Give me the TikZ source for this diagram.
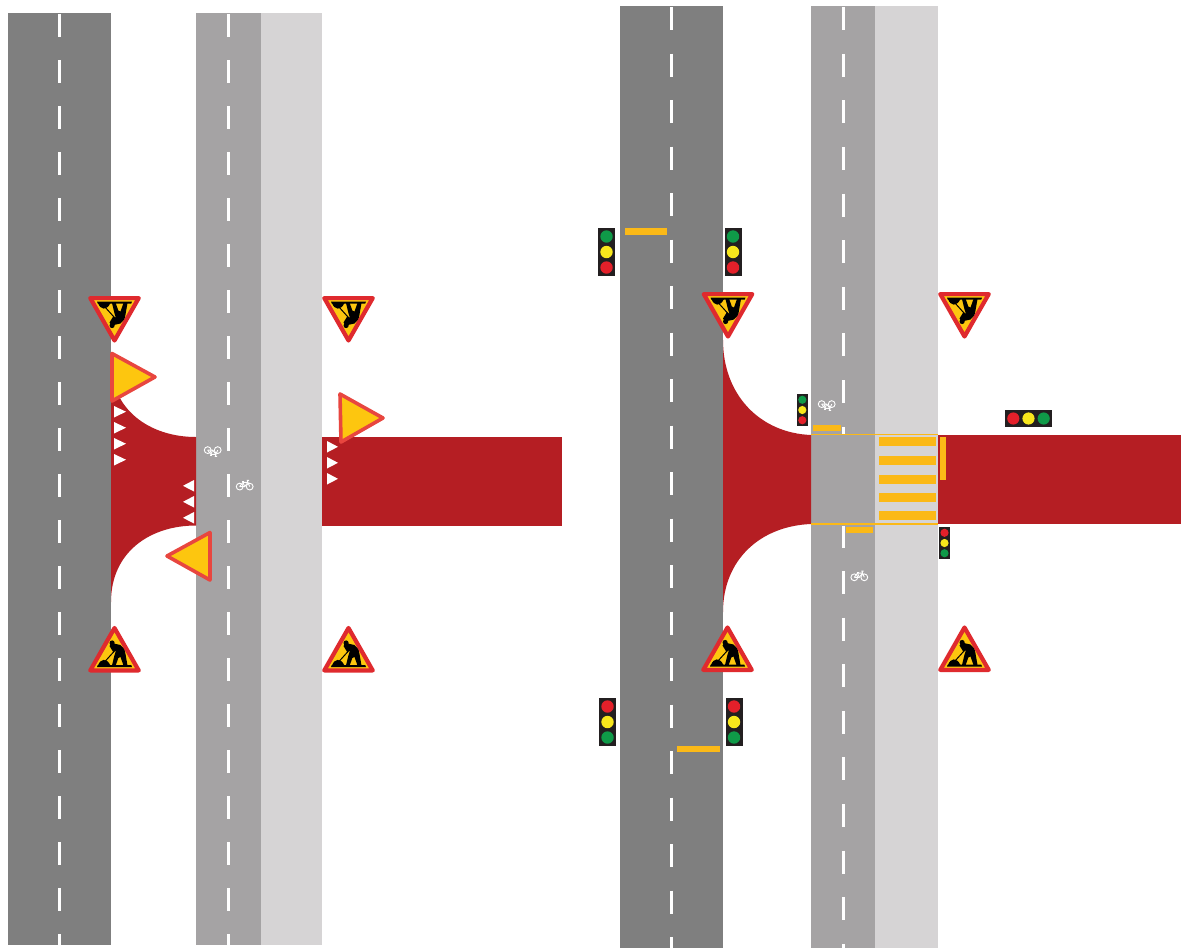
\documentclass[tikz,border=0pt]{standalone}
\definecolor{roadD}{HTML}{7F7F7F}
\definecolor{roadM}{HTML}{A5A3A4}
\definecolor{roadL}{HTML}{D6D4D5}
\definecolor{bedRed}{HTML}{B51E23}
\definecolor{signRed}{HTML}{DF2A2E}
\definecolor{yieldRed}{HTML}{E8463F}
\definecolor{signYel}{HTML}{FDC60F}
\definecolor{markYel}{HTML}{FBB917}
\definecolor{tlG}{HTML}{0F9A48}
\definecolor{tlY}{HTML}{F8E71C}
\definecolor{tlR}{HTML}{E4202A}
\definecolor{tlB}{HTML}{231F20}
\tikzset{
  dashline/.style={white,line width=3pt},
  tri/.style={white,fill=white,draw=none},
  bar/.style={fill=markYel,draw=none},
  yieldsign/.style={draw=yieldRed,fill=signYel,line width=3.6pt,line join=round},
  worksign/.style={draw=signRed,fill=signYel,line width=4.2pt,line join=round},
  bikeline/.style={draw=white,line width=0.9pt}
}
\newcommand{\worksignat}[3]{% cx, cy, yscale(+1 up, -1 flipped)
  \begin{scope}[shift={(#1,#2)},yscale=#3]
    \draw[worksign] (0,-21) -- (24.2,21.4) -- (-24.2,21.4) -- cycle;
    \fill[black] (-17.5,18) -- (17.5,18) -- (16.8,16) -- (-16.8,16) -- cycle;
    \fill[black] (-16.5,16.5) .. controls (-14,9.5) and (-8,8.5) .. (-4,16.5) -- cycle;
    \fill[black] (-2.4,-6) circle (2.6);
    \fill[black] (-5,-3) -- (-3,-6) -- (6,-4) .. controls (9,-2) and (10.5,1) .. (11,5)
      -- (13,16.5) -- (9,16.5) -- (6,8) -- (3.8,9) -- (1.2,16.5) -- (-2.5,16.5) -- (0,6)
      -- (1.5,1.5) -- (-1,3.5) -- cycle;
    \draw[black,line width=1pt] (-0.5,2.5) -- (-10,13);
  \end{scope}
}
\newcommand{\lightat}[7]{% cx, cy, scale, rot, top, mid, bottom
  \begin{scope}[shift={(#1,#2)},rotate=#4,scale=#3]
    \fill[tlB] (-8.5,-24) rectangle (8.5,24);
    \fill[#5] (0,-15.5) circle (6.2);
    \fill[#6] (0,0) circle (6.2);
    \fill[#7] (0,15.5) circle (6.2);
  \end{scope}
}
\newcommand{\bikeat}[3]{% cx, cy, yscale
  \begin{scope}[shift={(#1,#2)},yscale=#3]
    \draw[bikeline] (-5,1.6) circle (3.4);
    \draw[bikeline] (5,1.6) circle (3.4);
    \draw[bikeline] (-5,1.6) -- (-1.8,-2.6) -- (3.2,-2.6) -- (5,1.6);
    \draw[bikeline] (-5,1.6) -- (0,1.6) -- (3.2,-2.6);
    \draw[bikeline] (-1.8,-2.6) -- (0,1.6);
    \draw[bikeline] (-2.8,-3.4) -- (-0.6,-3.4);
    \draw[bikeline] (3.2,-2.6) -- (2.6,-4.6) -- (4.4,-4.6);
  \end{scope}
}
\begin{document}
\begin{tikzpicture}[x=1pt,y=-1pt]
\useasboundingbox (0,0) rectangle (1183,948);
\fill[white] (0,0) rectangle (1183,948);
% ---------- left scene: roads ----------
\fill[roadD] (8,13) rectangle (111,945);
\fill[roadM] (196,13) rectangle (261,945);
\fill[roadL] (261,13) rectangle (322,945);
\foreach \k in {0,...,20}{
  \pgfmathsetmacro{\ya}{14+46*\k}
  \pgfmathsetmacro{\yb}{min(\ya+23,945)}
  \draw[dashline] (59,\ya) -- (59,\yb);
  \draw[dashline] (228,\ya) -- (228,\yb);
}
% red bed
\fill[bedRed] (111,362) .. controls (111,410) and (150,437) .. (196,437)
  -- (196,525.5) .. controls (150,525.5) and (111,552) .. (111,602) -- cycle;
\fill[bedRed] (322,437) rectangle (562,525.5);
% white triangles
\foreach \y in {406,422,438,454}
  \fill[tri] (114,\y) -- (126,\y+5.7) -- (114,\y+11.5) -- cycle;
\foreach \y in {480,496,512}
  \fill[tri] (194,\y) -- (183,\y+5.8) -- (194,\y+11.5) -- cycle;
\foreach \y in {441,457,473}
  \fill[tri] (327,\y) -- (338,\y+5.8) -- (327,\y+11.5) -- cycle;
% yield triangles
\draw[yieldsign] (112,353.5) -- (155,377) -- (112,401) -- cycle;
\draw[yieldsign] (340,394) -- (383,418) -- (341,442) -- cycle;
\draw[yieldsign] (210,532.5) -- (167,556) -- (210,580) -- cycle;
% work signs
\worksignat{114.5}{319.5}{-1}
\worksignat{348.5}{319.5}{-1}
\worksignat{114.5}{649}{1}
\worksignat{348.5}{649}{1}
% bikes
\bikeat{212.7}{451.7}{-1}
\bikeat{244.7}{485}{1}
% ---------- right scene: roads ----------
\fill[roadD] (620,6) rectangle (723,948);
\fill[roadM] (811,6) rectangle (875,948);
\fill[roadL] (875,6) rectangle (938,948);
\foreach \k in {0,...,20}{
  \pgfmathsetmacro{\ya}{7+46.5*\k}
  \pgfmathsetmacro{\yb}{min(\ya+23,948)}
  \draw[dashline] (671.5,\ya) -- (671.5,\yb);
}
\foreach \k in {0,...,8}{
  \pgfmathsetmacro{\ya}{380-46.6*\k}
  \pgfmathsetmacro{\yb}{\ya+23}
  \draw[dashline] (843,\ya) -- (843,\yb);
}
\draw[dashline] (843,427) -- (843,434);
\draw[dashline] (843,526) -- (843,548);
\foreach \k in {0,...,8}{
  \pgfmathsetmacro{\ya}{571+46.6*\k}
  \pgfmathsetmacro{\yb}{min(\ya+23,948)}
  \draw[dashline] (843,\ya) -- (843,\yb);
}
% red bed
\fill[bedRed] (723,340) .. controls (723,395) and (760,433) .. (811,435)
  -- (811,524) .. controls (760,526) and (723,560) .. (723,612) -- cycle;
\fill[bedRed] (938,435) rectangle (1181,524);
% crossing
\draw[markYel,line width=1.8pt] (811,434.5) -- (938,434.5);
\draw[markYel,line width=1.8pt] (811,524) -- (938,524);
\foreach \y in {437,456,474.5,493,511}
  \fill[bar] (879,\y) rectangle (936,\y+9.3);
\fill[bar] (940,437) rectangle (946,480);
\fill[bar] (813,424.5) rectangle (841,431);
\fill[bar] (846,527) rectangle (873,533);
\fill[bar] (625,228) rectangle (667,235);
\fill[bar] (677,746) rectangle (720,752);
% traffic lights
\lightat{606.5}{252}{1}{0}{tlG}{tlY}{tlR}
\lightat{733}{252}{1}{0}{tlG}{tlY}{tlR}
\lightat{607.5}{722}{1}{0}{tlR}{tlY}{tlG}
\lightat{734}{722}{1}{0}{tlR}{tlY}{tlG}
\lightat{802.3}{410}{0.66}{0}{tlG}{tlY}{tlR}
\lightat{944.5}{543}{0.66}{0}{tlR}{tlY}{tlG}
\lightat{1028.5}{418.5}{0.98}{90}{tlR}{tlY}{tlG}
% work signs
\worksignat{728}{315.5}{-1}
\worksignat{964.5}{315.5}{-1}
\worksignat{727.5}{648.5}{1}
\worksignat{964.5}{648.5}{1}
% bikes
\bikeat{826.7}{405.7}{-1}
\bikeat{859.3}{575.7}{1}
\end{tikzpicture}
\end{document}
